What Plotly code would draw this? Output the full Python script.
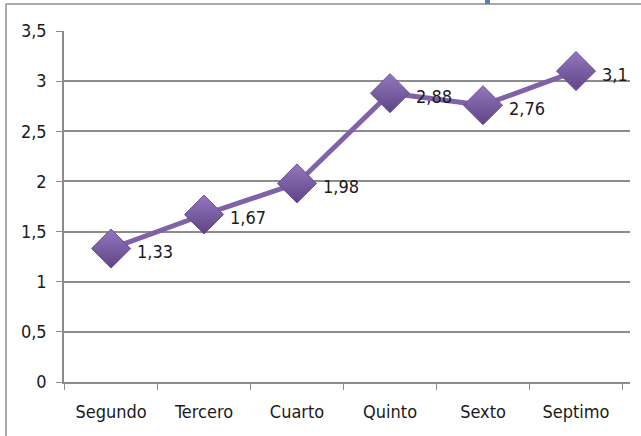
import plotly.graph_objects as go

categories = ["Segundo", "Tercero", "Cuarto", "Quinto", "Sexto", "Septimo"]
values = [1.33, 1.67, 1.98, 2.88, 2.76, 3.1]
value_labels = ["1,33", "1,67", "1,98", "2,88", "2,76", "3,1"]

FONT = "DejaVu Sans Condensed, Liberation Sans Narrow, sans-serif"
W, H = 641, 436
L, R, T, B = 64, 11, 31, 54
pw, ph = W - L - R, H - T - B

def px_x(p):
    return (p - L) / pw

def px_y(p):
    return 1 - (p - T) / ph

fig = go.Figure()
fig.add_trace(go.Scatter(
    x=categories, y=values, mode="lines+markers",
    line=dict(color="#7F62A8", width=5),
    marker=dict(symbol="diamond", size=30, color="#9477BF",
                gradient=dict(type="vertical", color="#5F4485"),
                line=dict(color="#6A4E93", width=1)),
    cliponaxis=False, hoverinfo="skip",
))

for c, v, t in zip(categories, values, value_labels):
    fig.add_annotation(x=c, y=v, text=t, showarrow=False, xanchor="left",
                       yanchor="middle", xshift=24, yshift=-3,
                       font=dict(family=FONT, size=18, color="#1a1a1a"))

shapes = [
    dict(type="line", xref="paper", yref="paper", x0=px_x(6), x1=px_x(W + 5),
         y0=px_y(4), y1=px_y(4), line=dict(color="#8c8c8c", width=1.5)),
    dict(type="line", xref="paper", yref="paper", x0=px_x(6), x1=px_x(6),
         y0=px_y(4), y1=px_y(H + 5), line=dict(color="#8c8c8c", width=1.5)),
    dict(type="rect", xref="paper", yref="paper", x0=px_x(485), x1=px_x(490),
         y0=px_y(0), y1=px_y(4), line=dict(width=0), fillcolor="#4F81BD"),
]

fig.update_layout(
    width=W, height=H, margin=dict(l=L, r=R, t=T, b=B, autoexpand=False),
    paper_bgcolor="white", plot_bgcolor="white",
    separators=", ", showlegend=False, shapes=shapes,
    font=dict(family=FONT, size=18, color="#1a1a1a"),
    xaxis=dict(showgrid=False, showline=True, linecolor="#8c8c8c", linewidth=1.5,
               ticks="outside", tickson="boundaries", ticklen=6, tickcolor="#8c8c8c",
               automargin=False,
               tickfont=dict(family=FONT, size=18, color="#1a1a1a"), ticklabelstandoff=13),
    yaxis=dict(range=[0, 3.5], dtick=0.5, showgrid=True, gridcolor="#8c8c8c", gridwidth=1.5,
               showline=True, linecolor="#8c8c8c", linewidth=1.5, zeroline=False,
               ticks="outside", ticklen=6, tickcolor="#8c8c8c", tickformat=".1~f",
               automargin=False,
               tickfont=dict(family=FONT, size=18, color="#1a1a1a"), ticklabelstandoff=6),
)

fig.write_html("out.html", config={"displayModeBar": False},
               post_script="document.body.style.margin='0';")
